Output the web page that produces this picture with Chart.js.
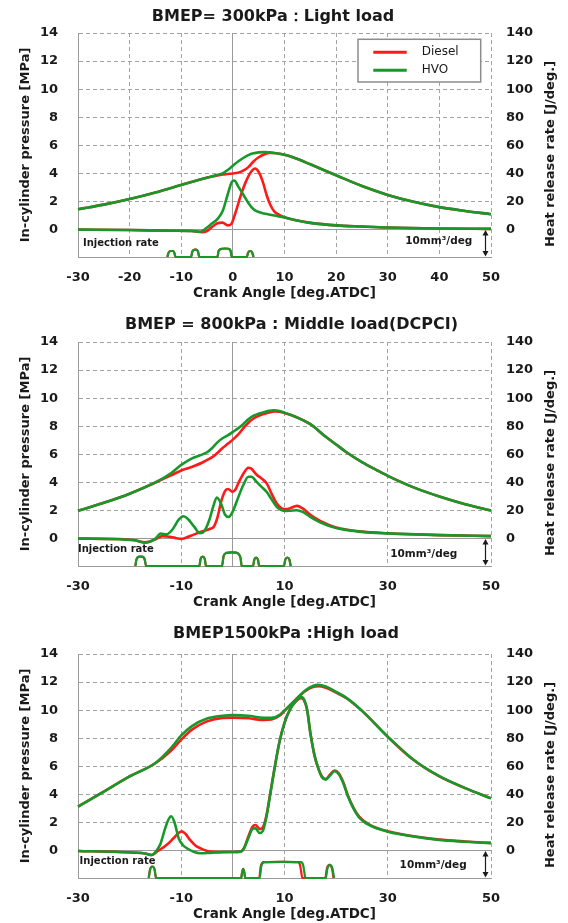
<!DOCTYPE html>
<html lang="en">
<head>
<meta charset="UTF-8">
<title>In-cylinder pressure and heat release rate</title>
<script src="https://cdn.jsdelivr.net/npm/chart.js"></script>
<style>
  html, body { margin: 0; padding: 0; background: #fff; overflow: hidden; }
  #wrap { position: relative; width: 568px; height: 923px; overflow: hidden; }
  canvas { position: absolute; left: 0; }
</style>
</head>
<body>
<div id="wrap">
  <canvas id="light" width="568" height="310" style="top:0px"></canvas>
  <canvas id="middle" width="568" height="310" style="top:309px"></canvas>
  <canvas id="high" width="568" height="310" style="top:621px"></canvas>
</div>
<script>
// ---- BMEP 300 kPa (light load) ----
const lightPresAngle = [-30,-25,-20,-15,-10,-6,-4,-3,-2,-1,0,1,2,3,4,5,6,7,8,10,12,15,20,25,30,35,40,45,50];
const lightPresDiesel = [1.45,1.78,2.18,2.65,3.18,3.6,3.78,3.86,3.92,3.96,4.0,4.05,4.2,4.45,4.85,5.15,5.35,5.45,5.46,5.33,5.1,4.65,3.87,3.1,2.47,1.98,1.6,1.33,1.1];
const lightPresHVO = [1.45,1.78,2.18,2.65,3.18,3.6,3.8,3.9,4.0,4.25,4.55,4.85,5.1,5.3,5.43,5.5,5.52,5.5,5.46,5.33,5.1,4.65,3.87,3.1,2.47,1.98,1.6,1.33,1.1];
const lightHrrDieselAngle = [-30,-20,-12,-8,-6,-5,-4,-3,-2,-1,-0.3,0.5,1.5,2.5,3.5,4.3,5,5.8,6.5,7.2,8,9,10,12,15,20,25,30,40,50];
const lightHrrDiesel = [0,-0.3,-0.8,-1.0,-1.8,-1.0,2,4.5,5,3,4,12,24,34,41,43.5,41,34,25,18,13,10.5,8.8,6.8,4.8,3.0,2.2,1.5,0.8,0.5];
const lightHrrHVOAngle = [-30,-20,-12,-8,-6.3,-5,-4,-3,-2,-1,-0.2,0.3,1,2,3,4,5,6,7,8,10,12,15,20,25,30,40,50];
const lightHrrHVO = [0,-0.3,-0.8,-1.0,-1.5,1.5,4.5,7.5,13,25,34,35,31,25,19,14.5,12.5,11.5,10.8,10,8.6,6.8,4.8,3.0,2.2,1.5,0.8,0.5];
const lightInjAngle = [-12.7,-12.45,-12.0,-11.6,-11.35,-11.1, -8.1,-7.85,-7.4,-7.1,-6.75,-6.5, -3.0,-2.75,-2.1,-1.5,-0.9,-0.45,-0.2, 2.7,2.95,3.35,3.75,4.0];
const lightInj = [0,1.6,2.2,2.2,1.6,0, 0,2.0,2.7,2.7,2.0,0, 0,2.3,3.0,3.1,3.0,2.3,0, 0,1.6,2.2,1.6,0];

// ---- BMEP 800 kPa (middle load, DCPCI) ----
const midPresAngle = [-30,-25,-20,-15,-12,-10,-8,-6,-5,-4,-3,-2,-1,0,1,2,3,4,5,6,7,8,9,10,12,15,18,20,22,25,28,30,35,40,45,50];
const midPresDiesel = [1.98,2.55,3.2,4.0,4.5,4.85,5.1,5.4,5.6,5.8,6.1,6.45,6.75,7.05,7.4,7.85,8.25,8.55,8.75,8.88,8.98,9.05,9.03,8.95,8.7,8.15,7.25,6.7,6.15,5.45,4.85,4.47,3.65,3.0,2.45,2.0];
const midPresHVO = [1.98,2.55,3.2,4.0,4.65,5.25,5.7,5.98,6.15,6.45,6.85,7.15,7.35,7.6,7.85,8.15,8.5,8.75,8.9,9.0,9.1,9.13,9.08,8.97,8.7,8.15,7.25,6.7,6.15,5.45,4.85,4.47,3.65,3.0,2.45,2.0];
const midHrrDieselAngle = [-30,-22,-19,-17,-15,-13.7,-12,-11,-10,-9,-8,-6.3,-4.4,-3.7,-3,-2.3,-1.5,-0.9,-0.1,0.5,1,2,3,3.5,4.6,5.5,6.6,7.5,8.5,9.3,10.3,11,12.4,13.5,15,17,20,25,30,40,50];
const midHrrDiesel = [0,-0.3,-1.2,-2.6,-0.5,1.8,1.2,0.3,-0.2,0.8,2.2,4.7,7,8.5,15,26,34,35.3,33.3,35,39,46,50.5,50,45.5,43,39,32,25,22,21,21.5,23.3,21.5,17,12.5,8,5,3.8,2.5,1.8];
const midHrrHVOAngle = [-30,-22,-19,-17,-15,-14,-12.9,-11.7,-10.5,-9.6,-8.7,-7.5,-6.4,-5.5,-4.5,-3.8,-3.1,-2.3,-1.5,-0.8,0,1,2,3,3.6,4.6,5.5,6.6,7.5,8.5,9.3,10.3,11,12.4,13.5,15,17,20,25,30,40,50];
const midHrrHVO = [0,-0.5,-1.2,-2.9,0,3.6,3.0,6.5,13.5,15.9,14,8.5,3.8,5.5,14,23,29.3,25,17,15.4,19.5,29,38,44,44,40.4,37,33,28,22.6,20.5,19.7,19.8,20.2,19,15.5,11.5,7.5,4.8,3.7,2.5,1.8];
const midInjAngle = [-18.9,-18.65,-18.1,-17.6,-17.1,-16.8, -6.5,-6.25,-5.85,-5.45,-5.2, -2.1,-1.8,-1.2,-0.3,0.6,1.2,1.5,1.7, 3.9,4.15,4.5,4.85,5.1, 9.9,10.15,10.55,10.95,11.2];
const midInj = [0,2.5,3.4,3.4,2.5,0, 0,2.6,3.4,2.6,0, 0,3.6,4.8,5.0,4.9,4.2,2.8,0, 0,2.3,3.1,2.3,0, 0,2.3,3.1,2.3,0];

// ---- BMEP 1500 kPa (high load) ----
const highPresAngle = [-30,-25,-20,-15,-12,-10,-8,-5,-2,0,3,6,7.5,9,10,12,14,15.5,16.5,18,20,22,25,30,35,40,45,50];
const highPresDiesel = [3.13,4.2,5.28,6.22,7.1,7.9,8.6,9.2,9.45,9.47,9.42,9.3,9.33,9.6,9.95,10.67,11.35,11.65,11.7,11.6,11.25,10.85,9.95,8.1,6.45,5.28,4.45,3.72];
const highPresHVO = [3.13,4.2,5.28,6.24,7.3,8.2,8.85,9.4,9.6,9.65,9.6,9.45,9.45,9.65,9.98,10.7,11.4,11.72,11.8,11.68,11.3,10.88,9.97,8.12,6.47,5.3,4.45,3.72];
const highHrrDieselAngle = [-30,-22,-17,-15.7,-14.7,-13.8,-12.8,-11.5,-10.5,-9.9,-9.2,-8.3,-7.2,-6.3,-4.4,-2,0,1.5,2.2,3,3.8,4.4,5.2,5.8,6.5,7.2,8,9,10,11,12,13.2,13.8,14.4,15,15.8,16.6,17.3,18,18.8,19.7,20.5,21.4,22.3,23.3,24.5,26,28,30,35,40,45,50];
const highHrrDiesel = [-0.3,-1,-2,-3.1,-0.7,1.5,4.1,8.8,12.5,13.7,12,7.7,3.5,1.7,-0.7,-1,-1,-0.7,2,10,17,18.2,15.3,16.5,25,40,57,77,91,100,105.5,108.5,107,100,84,68,58,52.5,51,54,57,55,48.5,39,31,24,19.5,16,13.8,10.2,7.8,6.5,5.5];
const highHrrHVOAngle = [-30,-22,-17,-15.7,-14.9,-14.1,-13.1,-12.5,-11.95,-11.3,-10.5,-9.7,-8.9,-7.6,-6.3,-4.4,-2,0,1.5,2.2,3,3.7,4.3,5.2,5.8,6.5,7.2,8,9,10,11,12,13.2,13.8,14.4,15,15.8,16.6,17.3,18,18.8,19.7,20.5,21.4,22.3,23.3,24.5,26,28,30,35,40,45,50];
const highHrrHVO = [-0.3,-1,-2,-3.1,-0.5,4.1,16,22,24.5,20,8.8,4,1.7,-0.8,-1.9,-1.6,-1.1,-1,-0.7,2,9,15,16,12.5,14,24,39,57,77,91,100,105.5,109.5,107.5,100,84,68,58,52,50.5,53.5,56.5,54.5,48,38.5,30.5,23.5,19,15.7,13.5,10,7.6,6.3,5.3];
const highInjDieselAngle = [-16.3,-16.05,-15.6,-15.15,-14.9, 1.6,1.8,2.0,2.2,2.4, 5.1,5.4,6.0,9.5,12.6,13.0,13.25,13.45, 17.9,18.2,18.7,19.2,19.5];
const highInjHVOAngle = [-16.3,-16.05,-15.6,-15.15,-14.9, 1.6,1.8,2.0,2.2,2.4, 5.2,5.5,6.1,9.5,13.2,13.6,13.85,14.05, 18.0,18.3,18.8,19.3,19.6];
const highInj = [0,3.0,4.2,3.0,0, 0,2.2,3.3,2.2,0, 0,4.3,5.8,5.9,5.8,4.8,2.0,0, 0,3.4,4.8,3.4,0];

// ---- axes ----
const pressureTicks = [0,2,4,6,8,10,12,14];
const hrrTicks = [0,20,40,60,80,100,120,140];
const angleTicksFine = [-30,-20,-10,0,10,20,30,40,50];
const angleTicksCoarse = [-30,-10,0,10,30,50];
const angleLabelsCoarse = [-30,-10,10,30,50];
const fuels = ['Diesel', 'HVO'];

const RED = '#ff1a1a';
const GREEN = '#16982a';
const INK = '#1a1a1a';
const GRID = '#a3a3a3';
const P_MIN = -1.95, P_MAX = 14;
const INJ_SPAN = 10; // mm3/deg from bottom edge up to the zero line
const injMax = INJ_SPAN * (P_MAX - P_MIN) / (0 - P_MIN);

Chart.defaults.font.family = '"DejaVu Sans", sans-serif';
Chart.defaults.color = INK;

function line(label, angles, values, color, axis, order, injection) {
  return {
    label: label,
    data: angles.map((a, i) => ({ x: a, y: values[i] })),
    yAxisID: axis,
    borderColor: color,
    backgroundColor: color,
    borderWidth: injection ? 2.2 : 2.6,
    pointRadius: 0,
    fill: false,
    cubicInterpolationMode: 'monotone',
    order: order,
    clip: injection ? { left: 2, top: 2, right: 2, bottom: 6 } : 2
  };
}

const dashed = c => (c.type === 'tick' && c.tick.value !== 0) ? [4, 3] : [];
const gridColor = c => (c.tick && c.tick.value === 0) ? '#9a9a9a' : GRID;

const decor = {
  id: 'decor',
  afterDraw(chart, args, o) {
    const { ctx, chartArea: a, scales } = chart;
    const y0 = scales.y.getPixelForValue(0);
    ctx.save();
    ctx.fillStyle = INK;
    ctx.textBaseline = 'middle';

    ctx.textAlign = 'center';
    ctx.font = 'bold 16px "DejaVu Sans"';
    ctx.fillText(o.title, o.titleX, a.top + o.titleDy);

    ctx.save();
    ctx.translate(551, a.top + 121);
    ctx.rotate(-Math.PI / 2);
    ctx.font = 'bold 13px "DejaVu Sans"';
    ctx.fillText('Heat release rate [J/deg.]', 0, 0);
    ctx.restore();

    ctx.textAlign = 'left';
    ctx.font = 'bold 10px "DejaVu Sans"';
    ctx.fillText('Injection rate', a.left + o.injDx, y0 + o.injDy);

    ctx.textAlign = 'right';
    ctx.font = 'bold 10.5px "DejaVu Sans"';
    ctx.fillText('10mm\u00b3/deg', o.mmRight, y0 + o.mmDy);

    // double arrow for the 10 mm3/deg span
    const ax = a.right - 5.5, yb = a.bottom;
    ctx.strokeStyle = INK;
    ctx.lineWidth = 1.2;
    ctx.beginPath();
    ctx.moveTo(ax, y0 + 3);
    ctx.lineTo(ax, yb - 3);
    ctx.stroke();
    ctx.beginPath();
    ctx.moveTo(ax, y0 + 0.5); ctx.lineTo(ax - 3, y0 + 6); ctx.lineTo(ax + 3, y0 + 6);
    ctx.closePath(); ctx.fill();
    ctx.beginPath();
    ctx.moveTo(ax, yb - 0.5); ctx.lineTo(ax - 3, yb - 6); ctx.lineTo(ax + 3, yb - 6);
    ctx.closePath(); ctx.fill();

    if (o.legend) {
      const bx = a.right - 133, by = a.top + 6.3, bw = 122.7, bh = 42.7;
      ctx.fillStyle = '#fff';
      ctx.fillRect(bx, by, bw, bh);
      ctx.strokeStyle = '#8c8c8c';
      ctx.lineWidth = 1.5;
      ctx.strokeRect(bx, by, bw, bh);
      [RED, GREEN].forEach((col, i) => {
        const ly = by + 13 + i * 18;
        ctx.strokeStyle = col;
        ctx.lineWidth = 3;
        ctx.beginPath();
        ctx.moveTo(bx + 15.3, ly);
        ctx.lineTo(bx + 48.7, ly);
        ctx.stroke();
        ctx.fillStyle = INK;
        ctx.textAlign = 'left';
        ctx.font = '12px "DejaVu Sans"';
        ctx.fillText(fuels[i], bx + 63.7, ly);
      });
    }
    ctx.restore();
  }
};

function makePanel(id, p) {
  const tickFont = { family: '"DejaVu Sans"', weight: 'bold', size: 13 };
  new Chart(document.getElementById(id), {
    type: 'line',
    data: {
      datasets: [
        line(fuels[0], p.presAngle, p.presDiesel, RED, 'y', 1, false),
        line(fuels[1], p.presAngle, p.presHVO, GREEN, 'y', 0, false),
        line(fuels[0], p.hrrDieselAngle, p.hrrDiesel, RED, 'y1', 1, false),
        line(fuels[1], p.hrrHVOAngle, p.hrrHVO, GREEN, 'y1', 0, false),
        line(fuels[0], p.injDieselAngle, p.injDiesel, RED, 'inj', 1, true),
        line(fuels[1], p.injHVOAngle, p.injHVO, GREEN, 'inj', 0, true)
      ]
    },
    options: {
      responsive: false,
      animation: false,
      events: [],
      layout: { padding: { top: 33, left: 0, right: 0, bottom: 0 } },
      plugins: {
        legend: { display: false },
        tooltip: { enabled: false },
        decor: p.decor
      },
      scales: {
        x: {
          type: 'linear',
          min: -30, max: 50,
          afterBuildTicks: s => { s.ticks = p.xTicks.map(v => ({ value: v })); },
          afterFit: s => { s.height = 53; },
          ticks: {
            autoSkip: false, maxRotation: 0, padding: 13, color: INK, font: tickFont,
            callback: v => p.xLabels.includes(v) ? String(v) : ''
          },
          grid: { color: gridColor, lineWidth: 1, drawTicks: false },
          border: { display: true, color: '#9a9a9a', width: 1, dash: dashed },
          title: {
            display: true, text: 'Crank Angle [deg.ATDC]', color: INK,
            font: { family: '"DejaVu Sans"', weight: 'bold', size: 13.5 },
            padding: { top: 0, bottom: 8.9 }
          }
        },
        y: {
          position: 'left',
          min: P_MIN, max: P_MAX,
          afterBuildTicks: s => { s.ticks = pressureTicks.map(v => ({ value: v })); },
          afterFit: s => { s.width = 78; },
          ticks: { padding: 20, color: INK, font: tickFont },
          grid: { color: gridColor, lineWidth: 1, drawTicks: false },
          border: { display: true, color: '#9a9a9a', width: 1, dash: dashed },
          title: {
            display: true, text: 'In-cylinder pressure [MPa]', color: INK,
            font: { family: '"DejaVu Sans"', weight: 'bold', size: 13 },
            padding: { top: 18, bottom: 0 }
          }
        },
        y1: {
          position: 'right',
          min: P_MIN * 10, max: P_MAX * 10,
          afterBuildTicks: s => { s.ticks = hrrTicks.map(v => ({ value: v })); },
          afterFit: s => { s.width = 77; },
          ticks: { padding: 15, color: INK, font: tickFont },
          grid: { display: false, drawTicks: false },
          border: { display: false }
        },
        inj: {
          axis: 'y',
          display: false,
          min: 0, max: injMax
        }
      }
    },
    plugins: [decor]
  });
}

makePanel('light', {
  presAngle: lightPresAngle, presDiesel: lightPresDiesel, presHVO: lightPresHVO,
  hrrDieselAngle: lightHrrDieselAngle, hrrDiesel: lightHrrDiesel,
  hrrHVOAngle: lightHrrHVOAngle, hrrHVO: lightHrrHVO,
  injDieselAngle: lightInjAngle, injDiesel: lightInj,
  injHVOAngle: lightInjAngle, injHVO: lightInj,
  xTicks: angleTicksFine, xLabels: angleTicksFine,
  decor: { title: 'BMEP= 300kPa\uff1aLight load', titleX: 273, titleDy: -15.7,
           injDx: 5, injDy: 13.6, mmRight: 472.3, mmDy: 12, legend: true }
});

makePanel('middle', {
  presAngle: midPresAngle, presDiesel: midPresDiesel, presHVO: midPresHVO,
  hrrDieselAngle: midHrrDieselAngle, hrrDiesel: midHrrDiesel,
  hrrHVOAngle: midHrrHVOAngle, hrrHVO: midHrrHVO,
  injDieselAngle: midInjAngle, injDiesel: midInj,
  injHVOAngle: midInjAngle, injHVO: midInj,
  xTicks: angleTicksCoarse, xLabels: angleLabelsCoarse,
  decor: { title: 'BMEP = 800kPa : Middle load(DCPCI)', titleX: 291.5, titleDy: -17,
           injDx: 0, injDy: 11, mmRight: 457.3, mmDy: 15.7, legend: false }
});

makePanel('high', {
  presAngle: highPresAngle, presDiesel: highPresDiesel, presHVO: highPresHVO,
  hrrDieselAngle: highHrrDieselAngle, hrrDiesel: highHrrDiesel,
  hrrHVOAngle: highHrrHVOAngle, hrrHVO: highHrrHVO,
  injDieselAngle: highInjDieselAngle, injDiesel: highInj,
  injHVOAngle: highInjHVOAngle, injHVO: highInj,
  xTicks: angleTicksCoarse, xLabels: angleLabelsCoarse,
  decor: { title: 'BMEP1500kPa :High load', titleX: 286, titleDy: -20,
           injDx: 1.6, injDy: 10.3, mmRight: 466.7, mmDy: 15, legend: false }
});
</script>
</body>
</html>
